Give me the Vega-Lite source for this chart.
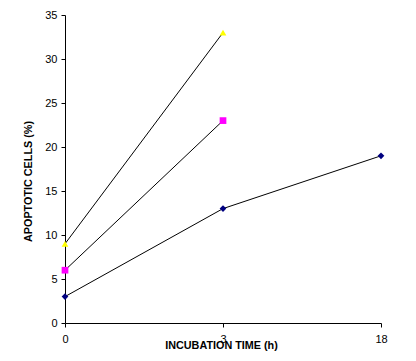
{
  "$schema": "https://vega.github.io/schema/vega-lite/v6.json",
  "width": 316,
  "height": 308,
  "autosize": "none",
  "padding": {"left": 65, "top": 15, "right": 35, "bottom": 38},
  "background": "white",
  "config": {
    "view": {"stroke": null},
    "font": "Liberation Sans"
  },
  "data": {
    "values": [
      {"time": "0", "cells": 3, "series": "A"},
      {"time": "3", "cells": 13, "series": "A"},
      {"time": "18", "cells": 19, "series": "A"},
      {"time": "0", "cells": 6, "series": "B"},
      {"time": "3", "cells": 23, "series": "B"},
      {"time": "0", "cells": 9, "series": "C"},
      {"time": "3", "cells": 33, "series": "C"}
    ]
  },
  "encoding": {
    "x": {
      "field": "time",
      "type": "ordinal",
      "sort": ["0", "3", "18"],
      "scale": {"type": "point", "padding": 0},
      "axis": {
        "title": "INCUBATION TIME (h)",
        "labelAngle": 0,
        "labelFont": "Liberation Sans",
        "labelFontSize": 11,
        "labelColor": "black",
        "labelPadding": 6,
        "titleFont": "Liberation Sans",
        "titleFontSize": 10.8,
        "titleFontWeight": "bold",
        "titleColor": "black",
        "titlePadding": -5,
        "titleX": 156,
        "domainColor": "black",
        "tickColor": "black",
        "tickSize": 4,
        "grid": false
      }
    },
    "y": {
      "field": "cells",
      "type": "quantitative",
      "scale": {"domain": [0, 35], "nice": false},
      "axis": {
        "title": "APOPTOTIC CELLS (%)",
        "values": [0, 5, 10, 15, 20, 25, 30, 35],
        "labelFont": "Liberation Sans",
        "labelFontSize": 11,
        "labelColor": "black",
        "labelPadding": 4,
        "titleFont": "Liberation Sans",
        "titleFontSize": 10.8,
        "titleFontWeight": "bold",
        "titleColor": "black",
        "titleBaseline": "middle",
        "titleX": -37,
        "titleY": 166,
        "domainColor": "black",
        "tickColor": "black",
        "tickSize": 4,
        "grid": false
      }
    }
  },
  "layer": [
    {
      "mark": {"type": "line", "color": "black", "strokeWidth": 1},
      "encoding": {"detail": {"field": "series"}}
    },
    {
      "mark": {"type": "point", "filled": true, "opacity": 1, "size": 45},
      "encoding": {
        "shape": {
          "field": "series",
          "scale": {"domain": ["A", "B", "C"], "range": ["diamond", "square", "triangle-up"]},
          "legend": null
        },
        "color": {
          "field": "series",
          "scale": {"domain": ["A", "B", "C"], "range": ["#000080", "#FF00FF", "#FFFF00"]},
          "legend": null
        }
      }
    }
  ]
}
